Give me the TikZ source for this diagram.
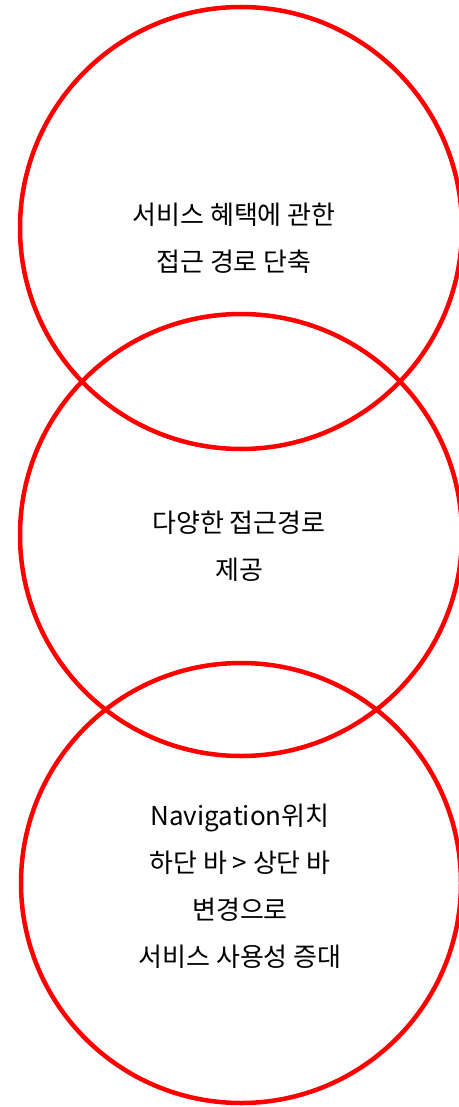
\documentclass[tikz,border=0pt]{standalone}
\usepackage{fontspec}
\setmainfont{Noto Sans CJK KR}
\begin{document}
\begin{tikzpicture}[x=1pt,y=-1pt]
        \useasboundingbox (0,0) rectangle (458,1107);
        \tikzset{ring/.style={draw=red, line width=4.5pt},
                 label/.style={align=center, font=\fontsize{26}{47}\selectfont}}

        % Circulos
        \draw[ring] (241,228) circle (221);
        \draw[ring] (241,535) circle (221);
        \draw[ring] (241,883) circle (220);

        % Textos
        \node[label] (uno) at (234,238) {서비스 혜택에 관한\\접근 경로 단축};
        \node[label] (dos) at (239,546) {다양한 접근경로\\제공};
        \node[label] (tres) at (240,886) {Navigation위치\\하단 바 > 상단 바\\변경으로\\서비스 사용성 증대};

    \end{tikzpicture}
\end{document}
